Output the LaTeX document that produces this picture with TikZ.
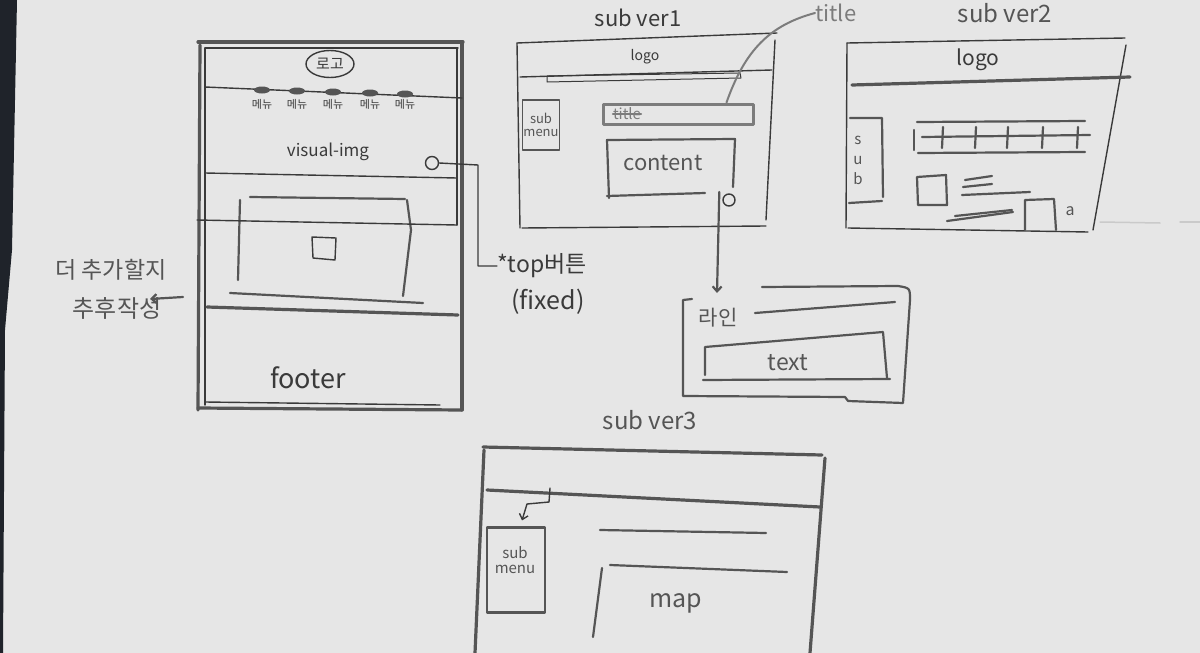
\documentclass[tikz,border=0pt]{standalone}
\usepackage{fontspec}
\setmainfont{Noto Sans CJK KR}
\usetikzlibrary{arrows.meta,calc,shapes.geometric}
\definecolor{paper}{HTML}{E6E6E6}
\definecolor{pencil}{HTML}{3A3A3A}
\definecolor{lead}{HTML}{555555}
\definecolor{faint}{HTML}{7C7C7C}
\definecolor{ghost}{HTML}{CACACA}
\definecolor{desk}{HTML}{1F232A}
\begin{document}
\begin{tikzpicture}[x=1pt,y=-1pt,line cap=round,line join=round,
  pen/.style={draw=pencil,line width=1.4pt},
  heavy/.style={draw=lead,line width=3.2pt},
  soft/.style={draw=lead,line width=2.2pt},
  pale/.style={draw=faint,line width=2pt},
  lbl/.style={inner sep=0pt,text=pencil},
  fs/.style={font=\fontsize{#1}{#1}\selectfont},
  pointer/.style={-{Straight Barb[length=5pt,width=9pt]}}]
\useasboundingbox (0,0) rectangle (1200,653);
\clip (0,0) rectangle (1200,653);
\fill[paper] (0,0) rectangle (1200,653);
\fill[desk] (0,0) -- (17,0) -- (12,250) -- (5,330) -- (3,653) -- (0,653) -- cycle;

% ---------- main page ----------
\draw[heavy] (198,42) -- (463,42);
\draw[pen] (205,48) -- (458,48);
\draw[heavy] (200,45) -- (198,410);
\draw[pen] (205,48) -- (205,405);
\draw[heavy] (462,42) -- (462,410);
\draw[pen] (457,48) -- (457,225);
\draw[heavy] (198,408) -- (462,410);
\draw[pen] (205,402) -- (440,405);
\node[ellipse,draw=pencil,line width=1.4pt,minimum width=48pt,minimum height=27pt,inner sep=0pt,fs=15,text=pencil] (logo) at (330,64) {로고};
\draw[pen] (205,87) -- (462,98);
\foreach \x/\y [count=\i] in {262/90,297/91,333/92,370/93,405/94}{
  \fill[lead] (\x,\y) ellipse (8pt and 3.5pt);
  \node[lbl,fs=11] (menu\i) at (\x,104) {메뉴};
}
\node[lbl,fs=17] (visual) at (328,152) {visual-img};
\node[circle,draw=pencil,line width=1.4pt,minimum size=13pt,inner sep=0pt] (topdot) at (432,163) {};
\draw[pen] (205,173) -- (457,178);
\draw[soft] (250,197) -- (405,199);
\draw[soft] (240,200) -- (238,280);
\draw[soft] (407,200) -- (411,230) -- (403,296);
\draw[pen] (197,220) -- (457,225);
\draw[pen] (312,237) -- (336,238) -- (335,260) -- (313,258) -- cycle;
\draw[soft] (230,293) -- (423,303);
\draw[heavy] (207,307) -- (458,315);
\node[lbl,fs=27] (footer) at (308,378) {footer};

% fixed top button note
\node[lbl,fs=23,anchor=west] (toplbl) at (497,266) {*top버튼};
\node[lbl,fs=25] (fixed) at (548,302) {(fixed)};
\draw[pen] (topdot.east) -- (478,165) |- (toplbl.west);

% side note
\node[lbl,fs=23,text=lead] (note1) at (111,270) {더 추가할지};
\node[lbl,fs=24,text=lead] (note2) at (117,308) {추후작성};
\coordinate (notetail) at (183,297);
\coordinate (notehead) at (150,299);
\draw[soft,pointer] (notetail) -- (notehead);

% ---------- sub ver1 ----------
\node[lbl,fs=22] (t1) at (638,18) {sub ver1};
\draw[pen] (517,43) -- (777,33);
\draw[pen] (517,43) -- (520,228);
\draw[pen] (775,40) -- (766,220);
\draw[pen] (522,228) -- (766,226);
\node[lbl,fs=14] (logo1) at (645,57) {logo};
\draw[pen] (520,77) -- (772,70);
\draw[pen,line width=1pt] (547,76) -- (740,73) -- (741,78) -- (547,82) -- cycle;
\node[draw=lead,line width=1.6pt,minimum width=37pt,minimum height=50pt,inner sep=0pt,fs=13,text=lead,align=center] (sm1) at (541,125) {sub\\menu};
\node[draw=faint,line width=3pt,minimum width=150pt,minimum height=20pt] (tbar) at (678,114) {};
\node[lbl,fs=15,text=faint] (ttl) at (627,114) {title};
\draw[pale] (ttl.west) -- (ttl.east);
\draw[soft] (609,198) -- (607,140) -- (735,139) -- (733,187);
\draw[soft] (607,196) -- (705,193);
\node[lbl,fs=22,text=lead] (content) at (663,163) {content};
\node[circle,draw=pencil,line width=1.4pt,minimum size=12pt,inner sep=0pt] (moredot) at (729,200) {};
\node[lbl,fs=22,text=faint,anchor=west] (tlbl) at (815,13) {title};
\draw[pale] ($(tbar.north east)+(-28,0)$) .. controls (745,50) and (770,25) .. (tlbl.west);
\coordinate (calltop) at (717,293);
\draw[soft,pointer] ($(moredot.west)+(-3,-8)$) -- (calltop);

% callout: line + text
\draw[soft] (692,299) -- (683,300) -- (683,396) -- (845,397) -- (848,401) -- (903,403) -- (910,300) .. controls (910,288) .. (898,286) -- (762,287);
\node[lbl,fs=21,text=lead] (linelbl) at (718,318) {라인};
\draw[soft] (755,313) -- (895,302);
\draw[soft] (705,375) -- (705,347) -- (883,332) -- (887,378);
\draw[soft] (703,380) -- (890,379);
\node[lbl,fs=23,text=lead] (txt) at (788,363) {text};

% ---------- sub ver2 ----------
\node[lbl,fs=24,text=lead] (t2) at (1005,13) {sub ver2};
\draw[pen] (847,43) -- (1125,38);
\draw[pen] (847,43) -- (846,228);
\draw[pen] (1126,45) -- (1093,230);
\draw[pen] (848,228) -- (1088,232);
\node[lbl,fs=21] (logo2) at (978,60) {logo};
\draw[heavy] (852,85) -- (1130,77);
\draw[soft] (850,118) -- (882,118) -- (883,197);
\draw[soft] (849,203) -- (882,201);
\node[lbl,font=\fontsize{15}{20}\selectfont,text=lead,align=center] (sub2) at (858,160) {s\\u\\b};
\draw[soft] (917,122) -- (1085,121);
\draw[soft] (922,137) -- (1090,135);
\draw[soft] (918,153) -- (1085,152);
\draw[soft] (914,130) -- (914,150);
\foreach \x in {943,976,1008,1043,1078}{\draw[soft] (\x,127) -- (\x-1,148);}
\draw[soft] (917,177) -- (946,175) -- (947,205) -- (918,205) -- cycle;
\draw[soft] (965,180) -- (992,176);
\draw[soft] (963,187) -- (992,184);
\draw[soft] (962,195) -- (1030,192);
\draw[soft] (947,221) -- (1013,212);
\draw[soft] (955,216) -- (1012,210);
\draw[soft] (1025,230) -- (1025,200) -- (1054,199) -- (1056,230);
\node[lbl,fs=16,text=lead] (a2) at (1070,211) {a};
\draw[ghost,line width=1.5pt] (1100,222) -- (1160,223);
\draw[ghost,line width=1.5pt] (1180,222) -- (1200,222);

% ---------- sub ver3 ----------
\node[lbl,fs=24,text=lead] (t3) at (650,420) {sub ver3};
\draw[heavy] (483,447) -- (822,455);
\draw[heavy] (484,450) -- (475,653);
\draw[heavy] (825,458) -- (810,653);
\draw[heavy] (487,490) -- (820,507);
\node[draw=lead,line width=2.2pt,minimum width=58pt,minimum height=85pt,inner sep=0pt] (sm3) at (516,570) {};
\node[lbl,fs=15,text=lead,align=center] (sm3txt) at (515,560) {sub\\menu};
\coordinate (smtop) at ($(sm3.north)+(6,-6)$);
\draw[pen,pointer] (550,488) -- (549,502) -- (527,504) -- (smtop);
\draw[soft] (600,530) -- (766,533);
\draw[soft] (610,565) -- (787,572);
\draw[soft] (602,568) -- (593,637);
\node[lbl,fs=25,text=lead] (map) at (676,603) {map};
\end{tikzpicture}
\end{document}
